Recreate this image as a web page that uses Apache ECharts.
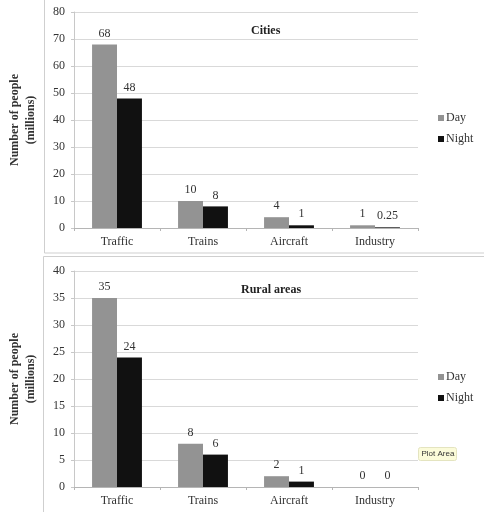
<!DOCTYPE html>
<html>
<head>
<meta charset="utf-8">
<script src="https://cdn.jsdelivr.net/npm/echarts@6/dist/echarts.min.js"></script>
<style>
  html, body { margin: 0; padding: 0; background: #fff; }
  #chart { width: 484px; height: 512px; }
</style>
</head>
<body>
<div id="chart"></div>
<script>
const categories = ['Traffic', 'Trains', 'Aircraft', 'Industry'];
const cityDay = [68, 10, 4, 1];
const cityNight = [48, 8, 1, 0.25];
const ruralDay = [35, 8, 2, 0];
const ruralNight = [24, 6, 1, 0];
const panelTitles = ['Cities', 'Rural areas'];
const yAxisTitle = 'Number of people\n(millions)';

const serif = 'Liberation Serif';
const dayColor = '#939393';
const nightColor = '#111111';

const chart = echarts.init(document.getElementById('chart'));

const makeX = (gridIndex) => ({
  type: 'category',
  gridIndex,
  data: categories,
  axisLine: { lineStyle: { color: '#b5b5b5' } },
  axisTick: { show: true, length: 3, lineStyle: { color: '#b5b5b5' } },
  axisLabel: { color: '#333', fontFamily: serif, fontSize: 12, margin: 8 },
});

const makeY = (gridIndex, max, interval) => ({
  type: 'value',
  gridIndex,
  min: 0,
  max,
  interval,
  name: yAxisTitle,
  nameLocation: 'middle',
  nameRotate: 90,
  nameGap: 35,
  nameTextStyle: { color: '#333', fontFamily: serif, fontWeight: 'bold', fontSize: 12, lineHeight: 16 },
  axisLine: { show: true, lineStyle: { color: '#c8c8c8' } },
  axisTick: { show: true, length: 3, lineStyle: { color: '#c8c8c8' } },
  axisLabel: { color: '#333', fontFamily: serif, fontSize: 12, margin: 9 },
  splitLine: { lineStyle: { color: '#d9d9d9' } },
});

const makeBar = (name, data, idx, color) => ({
  name,
  type: 'bar',
  xAxisIndex: idx,
  yAxisIndex: idx,
  data,
  barGap: '0%',
  barCategoryGap: '42%',
  itemStyle: { color },
  label: { show: true, position: 'top', color: '#333', fontFamily: serif, fontSize: 12, distance: 5 },
});

const legendStyle = (top) => ({
  orient: 'vertical',
  left: 433,
  top,
  icon: 'rect',
  itemWidth: 6,
  itemHeight: 6,
  itemGap: 9,
  data: ['Day', 'Night'],
  textStyle: { color: '#333', fontFamily: serif, fontSize: 12, padding: [0, 0, 0, -3] },
});

const option = {
  backgroundColor: '#fff',
  animation: false,
  title: [
    { text: panelTitles[0], left: 246, top: 20, textStyle: { fontFamily: serif, fontWeight: 'bold', fontSize: 12, color: '#222' } },
    { text: panelTitles[1], left: 236, top: 279, textStyle: { fontFamily: serif, fontWeight: 'bold', fontSize: 12, color: '#222' } },
  ],
  legend: [legendStyle(107), legendStyle(366)],
  grid: [
    { left: 74, right: 66, top: 12, height: 216, outerBoundsMode: 'none' },
    { left: 74, right: 66, top: 271, height: 216, outerBoundsMode: 'none' },
  ],
  xAxis: [makeX(0), makeX(1)],
  yAxis: [makeY(0, 80, 10), makeY(1, 40, 5)],
  series: [
    makeBar('Day', cityDay, 0, dayColor),
    makeBar('Night', cityNight, 0, nightColor),
    makeBar('Day', ruralDay, 1, dayColor),
    makeBar('Night', ruralNight, 1, nightColor),
  ],
  graphic: [
    // panel frames
    { type: 'rect', shape: { x: 44.5, y: -2, width: 445, height: 255 }, style: { fill: 'none', stroke: '#cfcfcf', lineWidth: 1 }, silent: true },
    { type: 'rect', shape: { x: 43.5, y: 256.5, width: 445, height: 260 }, style: { fill: 'none', stroke: '#cfcfcf', lineWidth: 1 }, silent: true },
    // "Plot Area" hover tip
    {
      type: 'group', left: 418, top: 447,
      children: [
        { type: 'rect', shape: { x: 0, y: 0, width: 38, height: 13, r: 2 }, style: { fill: '#fbfbd9', stroke: '#e4e4c0' } },
        { type: 'text', x: 3, y: 2.5, style: { text: 'Plot Area', fontFamily: 'Liberation Sans', fontSize: 8, fill: '#333' } },
      ],
    },
  ],
};

chart.setOption(option);
</script>
</body>
</html>
